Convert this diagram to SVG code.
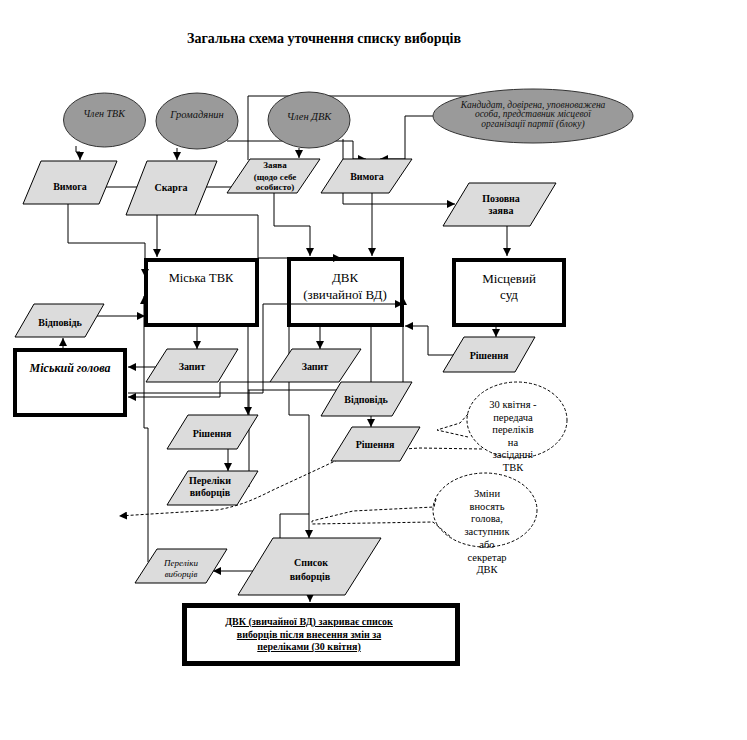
<svg xmlns="http://www.w3.org/2000/svg" width="747" height="740" viewBox="0 0 747 740" font-family="'Liberation Serif', 'DejaVu Serif', serif">
<style>
text{font-family:'Liberation Serif','DejaVu Serif',serif;fill:#000}
.b{font-weight:bold;font-size:10px;text-anchor:middle}
.s{font-weight:bold;font-size:9px;text-anchor:middle}
.it{font-style:italic;font-size:10px;text-anchor:middle;fill:#111}
.box{fill:none;stroke:#000;stroke-width:4}
.par{fill:#dcdcdc;stroke:#000;stroke-width:1}
.ell{fill:#9a9a9a;stroke:#333;stroke-width:1}
.c{fill:none;stroke:#000;stroke-width:1}
.d{fill:none;stroke:#000;stroke-width:1;stroke-dasharray:3,2}
.r{font-size:12.5px;text-anchor:middle}
.n{font-size:10.5px;text-anchor:middle}
</style>
<defs>
<marker id="a" markerUnits="userSpaceOnUse" markerWidth="9" markerHeight="8" refX="8" refY="4" orient="auto"><path d="M0,0 L8,4 L0,8 z" fill="#000"/></marker>
</defs>
<rect width="747" height="740" fill="#fff"/>
<text x="324" y="43" style="font-weight:bold;font-size:14px;text-anchor:middle">Загальна схема уточнення списку виборців</text>

<g id="connectors">
<path class="c" d="M76,146 V152 H80 V160" marker-end="url(#a)"/>
<path class="c" d="M177,148 V160" marker-end="url(#a)"/>
<path class="c" d="M299,148 V158" marker-end="url(#a)"/>
<path class="c" d="M227,141 H353 V159 H366" marker-end="url(#a)"/>
<path class="c" d="M343,139 V159"/>
<path class="c" d="M433,116 H405 V159 H380" marker-end="url(#a)"/>
<path class="c" d="M468,96 H248 V160"/>
<path class="c" d="M104,187 H139"/>
<path class="c" d="M206,187 H232"/>
<path class="c" d="M68,204 V243 H145 V277" marker-end="url(#a)"/>
<path class="c" d="M157,215 V257" marker-end="url(#a)"/>
<path class="c" d="M195,215 H258 V258 H341" marker-end="url(#a)"/>
<path class="c" d="M274,193 V226 H310 V256" marker-end="url(#a)"/>
<path class="c" d="M372,193 V256" marker-end="url(#a)"/>
<path class="c" d="M343,193 V204 H455" marker-end="url(#a)"/>
<path class="c" d="M507,226 V256" marker-end="url(#a)"/>
<path class="c" d="M496,327 V337" marker-end="url(#a)"/>
<path class="c" d="M453,355 H428 V326 H405" marker-end="url(#a)"/>
<path class="c" d="M97,316 H145" marker-end="url(#a)"/>
<path class="c" d="M63,348 V338" marker-end="url(#a)"/>
<path class="c" d="M156,367 H128" marker-end="url(#a)"/>
<path class="c" d="M197,327 V349" marker-end="url(#a)"/>
<path class="c" d="M320,327 V349" marker-end="url(#a)"/>
<path class="c" d="M128,393 H263 V304 H403" marker-end="url(#a)"/>
<path class="c" d="M270,382 H220 V397 H128" marker-end="url(#a)"/>
<path class="c" d="M248,327 V415" marker-end="url(#a)"/>
<path class="c" d="M248,390 H403 V297" marker-end="url(#a)"/>
<path class="c" d="M249,390 V487"/>
<path class="c" d="M371,327 V427" marker-end="url(#a)"/>
<path class="c" d="M228,449 V471" marker-end="url(#a)"/>
<path class="c" d="M148,562 V428 H144 V296" marker-end="url(#a)"/>
<path class="c" d="M289,327 V415 H309 V538" marker-end="url(#a)"/>
<path class="c" d="M309,514 H280 V571 H253" marker-end="url(#a)"/>
<path class="c" d="M253,571 H213" marker-end="url(#a)"/>
<path class="c" d="M310,595 V602" marker-end="url(#a)"/>
<path class="d" d="M482,449 L420,448 C385,450 348,454 333,462 C310,473 290,482 273,490 C255,499 240,506 217,510 L167,513 L119,516" marker-end="url(#a)"/>
</g>

<g id="callout-tvk">
<ellipse class="d" cx="517" cy="420" rx="50" ry="38"/>
<path class="d" d="M468,414 L460,423 L437,430 L468,437"/>
<text class="n" x="513" y="408">30 квітня -</text>
<text class="n" x="513" y="420.5">передача</text>
<text class="n" x="513" y="433">переліків</text>
<text class="n" x="513" y="445.5">на</text>
<text class="n" x="513" y="458">засіданні</text>
<text class="n" x="513" y="470.5">ТВК</text>
</g>

<g id="callout-dvk">
<ellipse class="d" cx="485" cy="510" rx="52" ry="37"/>
<path class="d" d="M436,499 L434,507 L353,511 L312,521 L312,524 L433,522 L452,538"/>
<text class="n" x="487" y="497">Зміни</text>
<text class="n" x="487" y="509.7">вносять</text>
<text class="n" x="487" y="522.4">голова,</text>
<text class="n" x="487" y="535">заступник</text>
<text class="n" x="487" y="547.8">або</text>
<text class="n" x="487" y="560.5">секретар</text>
<text class="n" x="487" y="573">ДВК</text>
</g>

<g id="chlen-tvk"><ellipse class="ell" cx="104.5" cy="120" rx="41" ry="27"/><text class="it" x="104" y="117">Член ТВК</text></g>
<g id="gromadyanyn"><ellipse class="ell" cx="197" cy="121" rx="41" ry="28"/><text class="it" x="197" y="118" style="font-size:10.5px">Громадянин</text></g>
<g id="chlen-dvk"><ellipse class="ell" cx="309" cy="120" rx="41" ry="28"/><text class="it" x="309" y="120" style="font-size:10.5px">Член ДВК</text></g>
<g id="kandydat"><ellipse class="ell" cx="533" cy="116" rx="100" ry="27"/>
<text class="it" x="533" y="108" style="font-size:9.5px">Кандидат, довірена, уповноважена</text>
<text class="it" x="533" y="117" style="font-size:9.5px">особа, представник місцевої</text>
<text class="it" x="533" y="126.5" style="font-size:9.5px">організації партії (блоку)</text></g>

<g id="vymoga1"><polygon class="par" points="41,161 117,161 99,204 23,204"/><text class="b" x="70" y="190">Вимога</text></g>
<g id="skarga"><polygon class="par" points="147,161 217,161 195,215 126,215"/><text class="b" x="171" y="191">Скарга</text></g>
<g id="zayava"><polygon class="par" points="250,159 320,159 297,193 227,193"/>
<text class="s" x="275" y="168">Заява</text><text class="s" x="275" y="180">(щодо себе</text><text class="s" x="275" y="190">особисто)</text></g>
<g id="vymoga2"><polygon class="par" points="343,159 412,159 389,193 321,193"/><text class="b" x="367" y="180">Вимога</text></g>
<g id="pozovna"><polygon class="par" points="469,183 556,183 530,226 443,226"/>
<text class="b" x="501" y="202">Позовна</text><text class="b" x="501" y="214">заява</text></g>

<g id="miska-tvk"><rect class="box" x="146" y="260" width="111" height="65"/><text class="r" x="201" y="282">Міська ТВК</text></g>
<g id="dvk"><rect class="box" x="289" y="259" width="113" height="66"/>
<text class="r" x="345" y="282" style="font-size:13px">ДВК</text><text class="r" x="345" y="299" style="font-size:13px">(звичайної ВД)</text></g>
<g id="sud"><rect class="box" x="454" y="260" width="110" height="65"/>
<text class="r" x="509" y="283" style="font-size:13px">Місцевий</text><text class="r" x="509" y="299" style="font-size:13px">суд</text></g>
<g id="golova"><rect class="box" x="15" y="350" width="110" height="65"/>
<text x="70" y="372" style="font-weight:bold;font-style:italic;font-size:12px;text-anchor:middle">Міський голова</text></g>

<g id="vidpovid1"><polygon class="par" points="34,304 104,304 85,337 15,337"/><text class="b" x="60" y="326">Відповідь</text></g>
<g id="zapyt1"><polygon class="par" points="167,349 238,349 218,382 146,382"/><text class="b" x="192" y="370">Запит</text></g>
<g id="zapyt2"><polygon class="par" points="292,349 361,349 339,382 270,382"/><text class="b" x="315" y="370">Запит</text></g>
<g id="vidpovid2"><polygon class="par" points="341,382 412,382 392,416 321,416"/><text class="b" x="366" y="403">Відповідь</text></g>
<g id="rishennya-sud"><polygon class="par" points="464,337 535,337 515,372 443,372"/><text class="b" x="489" y="359">Рішення</text></g>
<g id="rishennya1"><polygon class="par" points="188,415 258,415 237,449 167,449"/><text class="b" x="212" y="437">Рішення</text></g>
<g id="rishennya2"><polygon class="par" points="352,427 420,427 400,461 331,461"/><text class="b" x="375" y="448">Рішення</text></g>
<g id="pereliky1"><polygon class="par" points="188,471 258,471 237,505 167,505"/>
<text class="b" x="210" y="484">Переліки</text><text class="b" x="210" y="496">виборців</text></g>
<g id="pereliky2"><polygon class="par" points="157,549 227,549 206,583 135,583"/>
<text class="it" x="181" y="566" style="font-size:9px;fill:#000">Переліки</text><text class="it" x="181" y="577" style="font-size:9px;fill:#000">виборців</text></g>
<g id="spysok"><polygon class="par" points="273,538 381,538 345,595 238,595"/>
<text class="b" x="311" y="566">Список</text><text class="b" x="310" y="580">виборців</text></g>
<g id="final"><rect x="184.5" y="605.5" width="273" height="58" fill="none" stroke="#000" stroke-width="5"/>
<text class="b" x="309" y="625" text-decoration="underline">ДВК (звичайної ВД) закриває список</text>
<text class="b" x="309" y="638" text-decoration="underline">виборців після внесення змін за</text>
<text class="b" x="309" y="650" text-decoration="underline">переліками (30 квітня)</text></g>
</svg>
